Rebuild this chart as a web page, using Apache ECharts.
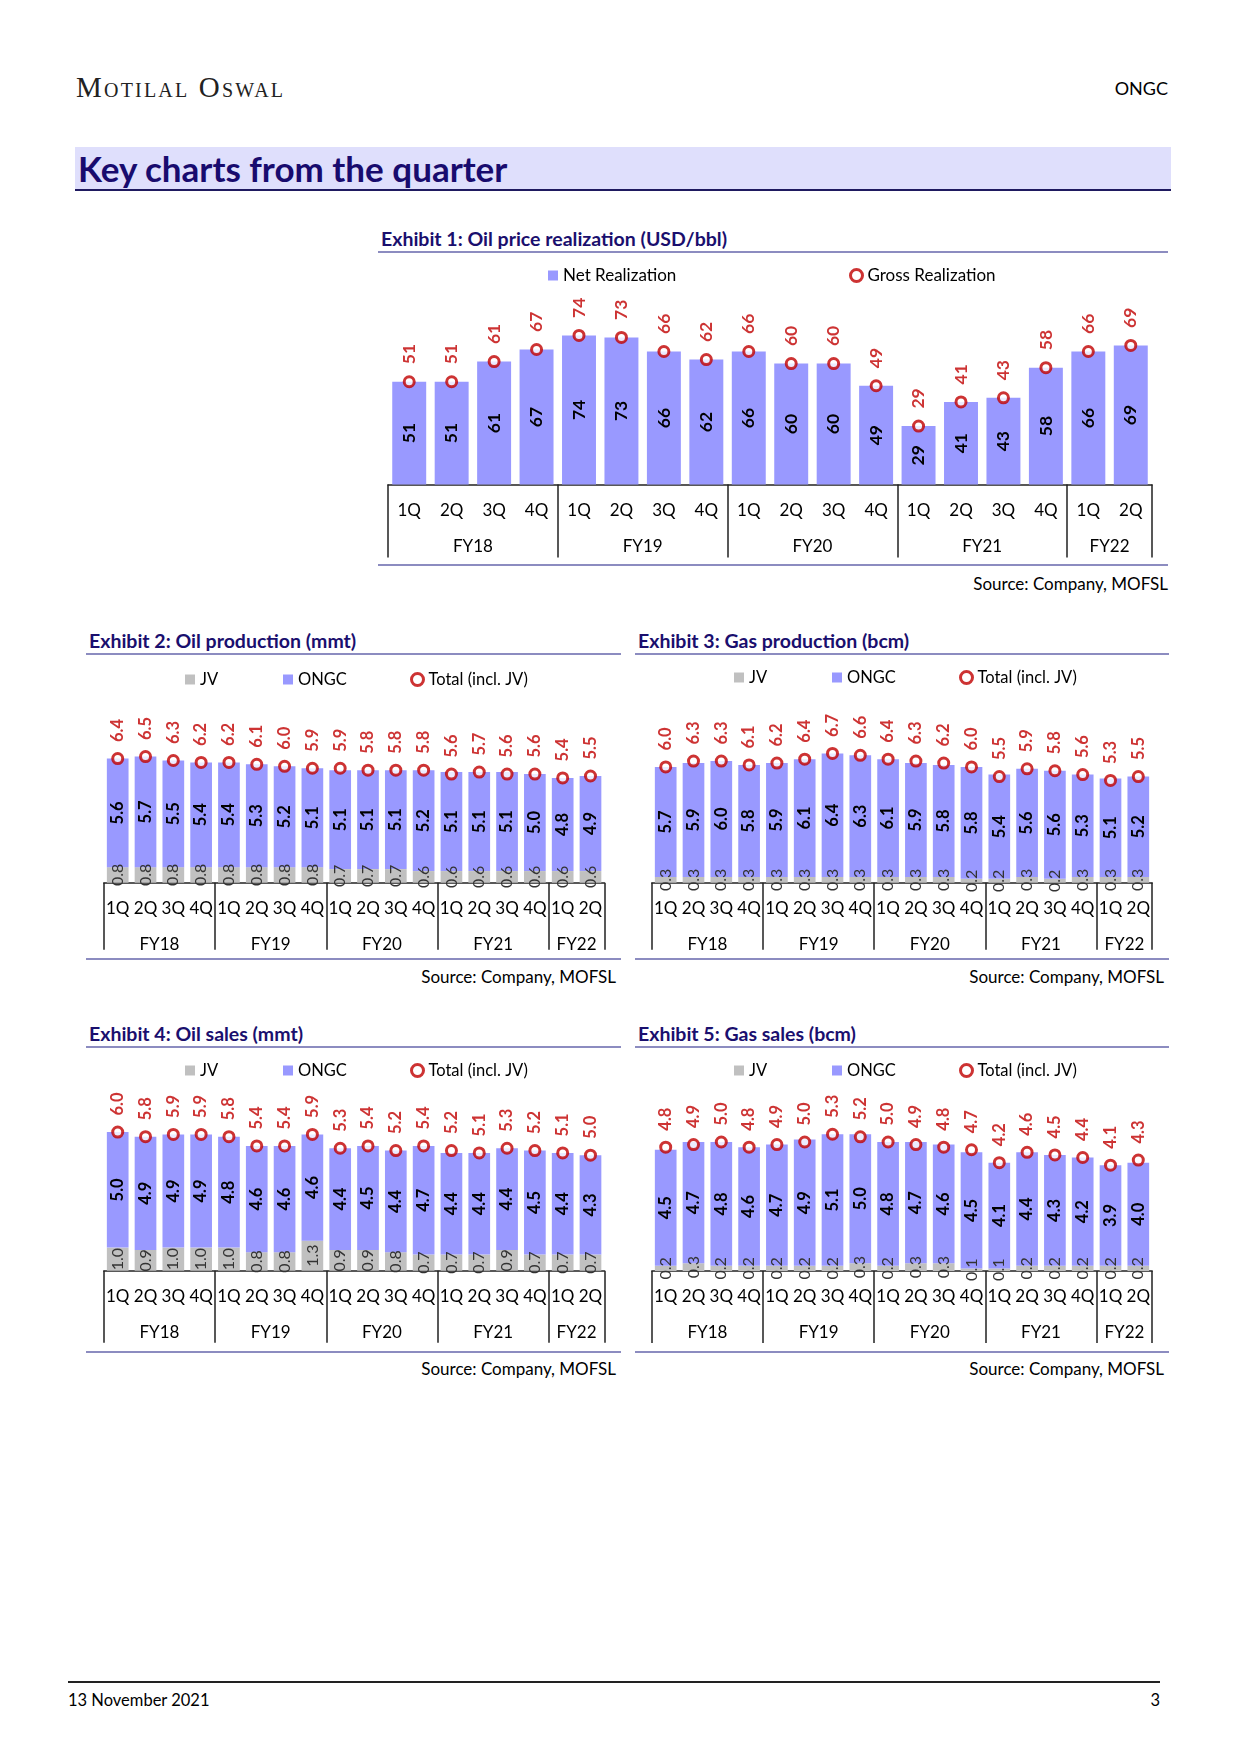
<!DOCTYPE html>
<html>
<head>
<meta charset="utf-8">
<script src="https://cdn.jsdelivr.net/npm/echarts@6/dist/echarts.min.js"></script>
<style>
  body { margin: 0; background: #fff; }
  #page { position: relative; width: 1241px; height: 1755px; font-family: Lato, "Open Sans", sans-serif; color: #000; overflow: hidden; background: #fff; }
  .abs { position: absolute; }
  .logo { left: 76px; top: 69px; font-family: "Liberation Serif", "DejaVu Serif", serif; font-variant: small-caps; font-size: 29px; letter-spacing: 2.2px; color: #222; line-height: 36px; white-space: nowrap; }
  .ticker { right: 73px; top: 78px; font-size: 18px; line-height: 20px; }
  .band { left: 75px; top: 147px; width: 1096px; height: 42px; background: #dfdffc; border-bottom: 2px solid #1f1a60; }
  .band span { position: absolute; left: 3px; top: 0; line-height: 42px; font-size: 35px; font-weight: bold; color: #180b6e; white-space: nowrap; }
  .ex-title { height: 25px; line-height: 25px; font-size: 19.5px; font-weight: bold; color: #1a0f6e; border-bottom: 2px solid #8c8cc0; padding-left: 3px; box-sizing: content-box; white-space: nowrap; }
  .ex-bottom { height: 0; border-top: 2px solid #8c8cc0; }
  .source { font-size: 17px; line-height: 20px; text-align: right; white-space: nowrap; }
  .chart { position: absolute; }
  .foot-line { left: 68px; top: 1681px; width: 1092px; height: 0; border-top: 2px solid #222; }
  .foot { top: 1690px; font-size: 16.5px; line-height: 20px; }
</style>
</head>
<body>
<div id="page">
  <div class="abs logo">Motilal Oswal</div>
  <div class="abs ticker">ONGC</div>
  <div class="abs band"><span>Key charts from the quarter</span></div>

  <div class="abs ex-title" style="left:378px; top:226px; width:787px;">Exhibit 1: Oil price realization (USD/bbl)</div>
  <div id="c1" class="chart" style="left:378px; top:256px; width:790px; height:306px;"></div>
  <div class="abs ex-bottom" style="left:378px; top:564px; width:790px;"></div>
  <div class="abs source" style="left:768px; top:574px; width:400px;">Source: Company, MOFSL</div>

  <div class="abs ex-title" style="left:86px; top:628px; width:532px;">Exhibit 2: Oil production (mmt)</div>
  <div id="c2" class="chart" style="left:86px; top:665px; width:535px; height:292px;"></div>
  <div class="abs ex-bottom" style="left:86px; top:958px; width:535px;"></div>
  <div class="abs source" style="left:216px; top:967px; width:400px;">Source: Company, MOFSL</div>

  <div class="abs ex-title" style="left:635px; top:628px; width:531px;">Exhibit 3: Gas production (bcm)</div>
  <div id="c3" class="chart" style="left:635px; top:665px; width:534px; height:292px;"></div>
  <div class="abs ex-bottom" style="left:635px; top:958px; width:534px;"></div>
  <div class="abs source" style="left:764px; top:967px; width:400px;">Source: Company, MOFSL</div>

  <div class="abs ex-title" style="left:86px; top:1021px; width:532px;">Exhibit 4: Oil sales (mmt)</div>
  <div id="c4" class="chart" style="left:86px; top:1050px; width:535px; height:300px;"></div>
  <div class="abs ex-bottom" style="left:86px; top:1351px; width:535px;"></div>
  <div class="abs source" style="left:216px; top:1359px; width:400px;">Source: Company, MOFSL</div>

  <div class="abs ex-title" style="left:635px; top:1021px; width:531px;">Exhibit 5: Gas sales (bcm)</div>
  <div id="c5" class="chart" style="left:635px; top:1050px; width:534px; height:300px;"></div>
  <div class="abs ex-bottom" style="left:635px; top:1351px; width:534px;"></div>
  <div class="abs source" style="left:764px; top:1359px; width:400px;">Source: Company, MOFSL</div>

  <div class="abs foot-line"></div>
  <div class="abs foot" style="left:68px;">13 November 2021</div>
  <div class="abs foot" style="left:1060px; width:100px; text-align:right;">3</div>
</div>

<script>
// ---------- DATA ----------
const quarters = ['1Q','2Q','3Q','4Q','1Q','2Q','3Q','4Q','1Q','2Q','3Q','4Q','1Q','2Q','3Q','4Q','1Q','2Q'];
const fiscalYears = ['FY18','FY19','FY20','FY21','FY22'];
const quartersPerYear = [4, 4, 4, 4, 2];

const netRealization   = [51, 51, 61, 67, 74, 73, 66, 62, 66, 60, 60, 49, 29, 41, 43, 58, 66, 69];
const grossRealization = [51, 51, 61, 67, 74, 73, 66, 62, 66, 60, 60, 49, 29, 41, 43, 58, 66, 69];

const oilProdJV    = [0.8, 0.8, 0.8, 0.8, 0.8, 0.8, 0.8, 0.8, 0.7, 0.7, 0.7, 0.6, 0.6, 0.6, 0.6, 0.6, 0.6, 0.6];
const oilProdONGC  = [5.6, 5.7, 5.5, 5.4, 5.4, 5.3, 5.2, 5.1, 5.1, 5.1, 5.1, 5.2, 5.1, 5.1, 5.1, 5.0, 4.8, 4.9];
const oilProdTotal = [6.4, 6.5, 6.3, 6.2, 6.2, 6.1, 6.0, 5.9, 5.9, 5.8, 5.8, 5.8, 5.6, 5.7, 5.6, 5.6, 5.4, 5.5];

const gasProdJV    = [0.3, 0.3, 0.3, 0.3, 0.3, 0.3, 0.3, 0.3, 0.3, 0.3, 0.3, 0.2, 0.2, 0.3, 0.2, 0.3, 0.3, 0.3];
const gasProdONGC  = [5.7, 5.9, 6.0, 5.8, 5.9, 6.1, 6.4, 6.3, 6.1, 5.9, 5.8, 5.8, 5.4, 5.6, 5.6, 5.3, 5.1, 5.2];
const gasProdTotal = [6.0, 6.3, 6.3, 6.1, 6.2, 6.4, 6.7, 6.6, 6.4, 6.3, 6.2, 6.0, 5.5, 5.9, 5.8, 5.6, 5.3, 5.5];

const oilSalesJV    = [1.0, 0.9, 1.0, 1.0, 1.0, 0.8, 0.8, 1.3, 0.9, 0.9, 0.8, 0.7, 0.7, 0.7, 0.9, 0.7, 0.7, 0.7];
const oilSalesONGC  = [5.0, 4.9, 4.9, 4.9, 4.8, 4.6, 4.6, 4.6, 4.4, 4.5, 4.4, 4.7, 4.4, 4.4, 4.4, 4.5, 4.4, 4.3];
const oilSalesTotal = [6.0, 5.8, 5.9, 5.9, 5.8, 5.4, 5.4, 5.9, 5.3, 5.4, 5.2, 5.4, 5.2, 5.1, 5.3, 5.2, 5.1, 5.0];

const gasSalesJV    = [0.2, 0.3, 0.2, 0.2, 0.2, 0.2, 0.2, 0.3, 0.2, 0.3, 0.3, 0.1, 0.1, 0.2, 0.2, 0.2, 0.2, 0.2];
const gasSalesONGC  = [4.5, 4.7, 4.8, 4.6, 4.7, 4.9, 5.1, 5.0, 4.8, 4.7, 4.6, 4.5, 4.1, 4.4, 4.3, 4.2, 3.9, 4.0];
const gasSalesTotal = [4.8, 4.9, 5.0, 4.8, 4.9, 5.0, 5.3, 5.2, 5.0, 4.9, 4.8, 4.7, 4.2, 4.6, 4.5, 4.4, 4.1, 4.3];

// ---------- STYLE ----------
const FONT = 'Lato, "Open Sans", sans-serif';
const BAR = '#9999ff', JVC = '#c0c0c0', RED = '#c00000', LINE = '#222';

function buildXAxes(tickLen, qMargin, fyMargin) {
  const bounds = [0];
  quartersPerYear.forEach(c => bounds.push(bounds[bounds.length - 1] + c));
  const fyData = new Array(quarters.length + 1).fill('');
  fiscalYears.forEach((fy, i) => { fyData[bounds[i] + quartersPerYear[i] / 2] = fy; });
  return [
    {
      type: 'category', data: quarters, boundaryGap: true, position: 'bottom',
      axisLine: { show: false }, axisTick: { show: false }, splitLine: { show: false },
      axisLabel: { interval: 0, margin: qMargin, fontSize: 17, color: '#000', fontFamily: FONT }
    },
    {
      type: 'category', data: fyData, boundaryGap: false, position: 'bottom',
      axisLine: { show: true, lineStyle: { color: LINE, width: 1.5 } },
      axisTick: { show: true, length: tickLen, interval: (i) => bounds.indexOf(i) >= 0, lineStyle: { color: LINE, width: 1.5 } },
      splitLine: { show: false },
      axisLabel: { interval: (i, v) => v !== '', margin: fyMargin, fontSize: 17, color: '#000', fontFamily: FONT }
    }
  ];
}

const fmt1 = p => Number(p.value).toFixed(1);

// ---------- EXHIBIT 1 ----------
(function () {
  const chart = echarts.init(document.getElementById('c1'), null, { renderer: 'canvas' });
  chart.setOption({
    animation: false,
    legend: [
      { data: [{ name: 'Net Realization', icon: 'rect' }], left: 165, top: 6, itemWidth: 10, itemHeight: 10,
        textStyle: { fontSize: 17, color: '#000', fontFamily: FONT }, selectedMode: false },
      { data: [{ name: 'Gross Realization', icon: 'circle', itemStyle: { color: '#fff', borderColor: RED, borderWidth: 3 } }],
        left: 466, top: 6, itemWidth: 12, itemHeight: 12,
        textStyle: { fontSize: 17, color: '#000', fontFamily: FONT }, selectedMode: false }
    ],
    grid: { left: 10, top: 27, width: 764, height: 201.5 },
    xAxis: buildXAxes(73, 18, 54),
    yAxis: { type: 'value', min: 0, max: 100, show: false },
    series: [
      { name: 'Net Realization', type: 'bar', data: netRealization, barCategoryGap: '20%',
        itemStyle: { color: BAR },
        label: { show: true, position: 'inside', rotate: 90, fontSize: 17.5, fontWeight: 'bold', color: '#000', fontFamily: FONT } },
      { name: 'Gross Realization', type: 'scatter', data: grossRealization, symbol: 'circle', symbolSize: 10, z: 5,
        itemStyle: { color: '#fff', borderColor: RED, borderWidth: 3 },
        label: { show: true, position: 'top', rotate: 90, align: 'left', verticalAlign: 'middle', distance: 11,
                 fontSize: 17.5, fontWeight: 'bold', color: RED, fontFamily: FONT } }
    ]
  });
})();

// ---------- EXHIBITS 2-5 ----------
function stackedChart(id, jv, ongc, total, cfg) {
  const chart = echarts.init(document.getElementById(id), null, { renderer: 'canvas' });
  const lt = { fontSize: 16.5, color: '#000', fontFamily: FONT };
  chart.setOption({
    animation: false,
    legend: [
      { data: [{ name: 'JV', icon: 'rect' }], left: 94, top: cfg.legendTop - 5, itemWidth: 10, itemHeight: 10, textStyle: lt, selectedMode: false },
      { data: [{ name: 'ONGC', icon: 'rect' }], left: 192, top: cfg.legendTop - 5, itemWidth: 10, itemHeight: 10, textStyle: lt, selectedMode: false },
      { data: [{ name: 'Total (incl. JV)', icon: 'circle', itemStyle: { color: '#fff', borderColor: RED, borderWidth: 3 } }],
        left: 319, top: cfg.legendTop - 5, itemWidth: 12, itemHeight: 12, textStyle: lt, selectedMode: false }
    ],
    grid: cfg.grid,
    xAxis: buildXAxes(cfg.tickLen, 17, 53),
    yAxis: { type: 'value', min: 0, max: cfg.yMax, show: false },
    series: [
      { name: 'JV', type: 'bar', stack: 'prod', data: jv, barCategoryGap: '22%', itemStyle: { color: JVC },
        label: { show: true, position: 'inside', rotate: 90, formatter: fmt1, fontSize: 16, color: '#333', fontFamily: FONT } },
      { name: 'ONGC', type: 'bar', stack: 'prod', data: ongc, barCategoryGap: '22%', itemStyle: { color: BAR },
        label: { show: true, position: 'inside', rotate: 90, formatter: fmt1, fontSize: 16.5, fontWeight: 'bold', color: '#000', fontFamily: FONT } },
      { name: 'Total (incl. JV)', type: 'scatter', data: total, symbol: 'circle', symbolSize: 10, z: 5,
        itemStyle: { color: '#fff', borderColor: RED, borderWidth: 3 },
        label: { show: true, position: 'top', rotate: 90, align: 'left', verticalAlign: 'middle', distance: 10,
                 formatter: fmt1, fontSize: 16.5, fontWeight: 'bold', color: RED, fontFamily: FONT } }
    ]
  });
}

stackedChart('c2', oilProdJV, oilProdONGC, oilProdTotal,
  { yMax: 8, legendTop: 6, tickLen: 67, grid: { left: 17.8, top: 62.5, width: 500.6, height: 155.2 } });
stackedChart('c3', gasProdJV, gasProdONGC, gasProdTotal,
  { yMax: 8, legendTop: 4, tickLen: 67, grid: { left: 16.8, top: 63.3, width: 500.4, height: 154.4 } });
stackedChart('c4', oilSalesJV, oilSalesONGC, oilSalesTotal,
  { yMax: 7, legendTop: 12, tickLen: 72, grid: { left: 17.8, top: 59, width: 500.6, height: 161.7 } });
stackedChart('c5', gasSalesJV, gasSalesONGC, gasSalesTotal,
  { yMax: 6, legendTop: 12, tickLen: 72, grid: { left: 16.8, top: 66.2, width: 500.4, height: 154.8 } });
</script>
</body>
</html>
